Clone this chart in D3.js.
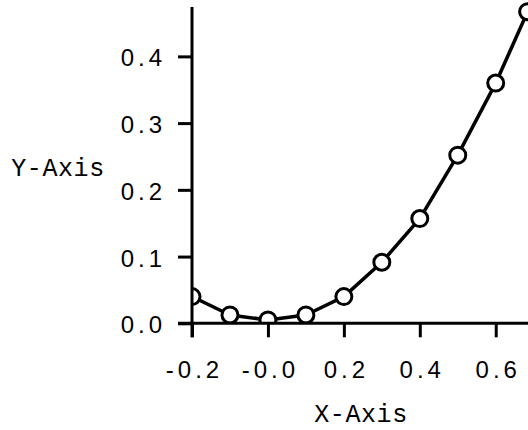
<!DOCTYPE html>
<html>
<head>
<meta charset="utf-8">
<script src="https://cdn.jsdelivr.net/npm/d3@7.9.0/dist/d3.min.js"></script>
<style>
  body { margin: 0; background: #fff; }
  svg { display: block; }
  .tick text { font-family: "Liberation Sans", Arial, sans-serif; font-size: 24px; letter-spacing: 4px; fill: #000; }
  .axis-title { font-family: "Liberation Mono", "Courier New", monospace; font-size: 25px; letter-spacing: 0.6px; fill: #000; }
</style>
</head>
<body>
<svg id="chart" width="528" height="430"></svg>
<script>
// values
const xValues = [-0.2, -0.1, 0.0, 0.1, 0.2, 0.3, 0.4, 0.5, 0.6, 0.684];
const yValues = [0.04, 0.0125, 0.005, 0.0125, 0.04, 0.0915, 0.157, 0.252, 0.36, 0.467];

const xTicks = [-0.2, 0.0, 0.2, 0.4, 0.6];
const xTickLabels = ['-0.2', '-0.0', '0.2', '0.4', '0.6'];
const yTicks = [0.0, 0.1, 0.2, 0.3, 0.4];
const yTickLabels = ['0.0', '0.1', '0.2', '0.3', '0.4'];

const data = xValues.map((x, i) => ({ x: x, y: yValues[i] }));

const svg = d3.select('#chart');
const plotLeft = 192, plotRight = 528, plotTop = 7, plotBottom = 323.3;
const tickLen = 14;

let x = d3.scaleLinear().domain([-0.2, 0.685]).range([plotLeft, plotRight]);
let y = d3.scaleLinear().domain([0, 0.474]).range([plotBottom, plotTop]);

// clip the marks to the plot area
svg.append('clipPath').attr('id', 'plot-clip')
  .append('rect')
  .attr('x', plotLeft).attr('y', 0)
  .attr('width', 600).attr('height', plotBottom);

let plot = svg.append('g').attr('clip-path', 'url(#plot-clip)');

let line = d3.line().x(d => x(d.x)).y(d => y(d.y));
plot.append('path')
  .datum(data)
  .attr('d', line)
  .attr('fill', 'none')
  .attr('stroke', '#000')
  .attr('stroke-width', 3.5)
  .attr('stroke-linejoin', 'round');

plot.selectAll('circle')
  .data(data)
  .join('circle')
  .attr('cx', d => x(d.x))
  .attr('cy', d => y(d.y))
  .attr('r', 8)
  .attr('fill', '#fff')
  .attr('stroke', '#000')
  .attr('stroke-width', 3);

// y axis
let yAxis = svg.append('g')
  .attr('transform', `translate(${plotLeft},0)`)
  .call(d3.axisLeft(y).tickValues(yTicks)
    .tickFormat((d, i) => yTickLabels[i])
    .tickSize(tickLen).tickSizeOuter(0).tickPadding(0));
yAxis.select('.domain').remove();
yAxis.selectAll('.tick line').attr('stroke', '#000').attr('stroke-width', 3);
yAxis.selectAll('.tick text').attr('x', -26).attr('dy', null).attr('y', 9.5);
yAxis.append('line')
  .attr('x1', 0).attr('x2', 0)
  .attr('y1', plotTop).attr('y2', plotBottom + tickLen)
  .attr('stroke', '#000').attr('stroke-width', 3);

// x axis
let xAxis = svg.append('g')
  .attr('transform', `translate(0,${plotBottom})`)
  .call(d3.axisBottom(x).tickValues(xTicks)
    .tickFormat((d, i) => xTickLabels[i])
    .tickSize(tickLen).tickSizeOuter(0).tickPadding(0));
xAxis.select('.domain').remove();
xAxis.selectAll('.tick line').attr('stroke', '#000').attr('stroke-width', 3);
xAxis.selectAll('.tick text').attr('dy', null).attr('y', 55).attr('x', 2);
xAxis.append('line')
  .attr('x1', plotLeft - tickLen).attr('x2', plotRight)
  .attr('y1', 0).attr('y2', 0)
  .attr('stroke', '#000').attr('stroke-width', 3);

// axis titles
svg.append('text').attr('class', 'axis-title')
  .attr('x', 58).attr('y', 176)
  .attr('text-anchor', 'middle')
  .text('Y-Axis');
svg.append('text').attr('class', 'axis-title')
  .attr('x', 361).attr('y', 422)
  .attr('text-anchor', 'middle')
  .text('X-Axis');
</script>
</body>
</html>
